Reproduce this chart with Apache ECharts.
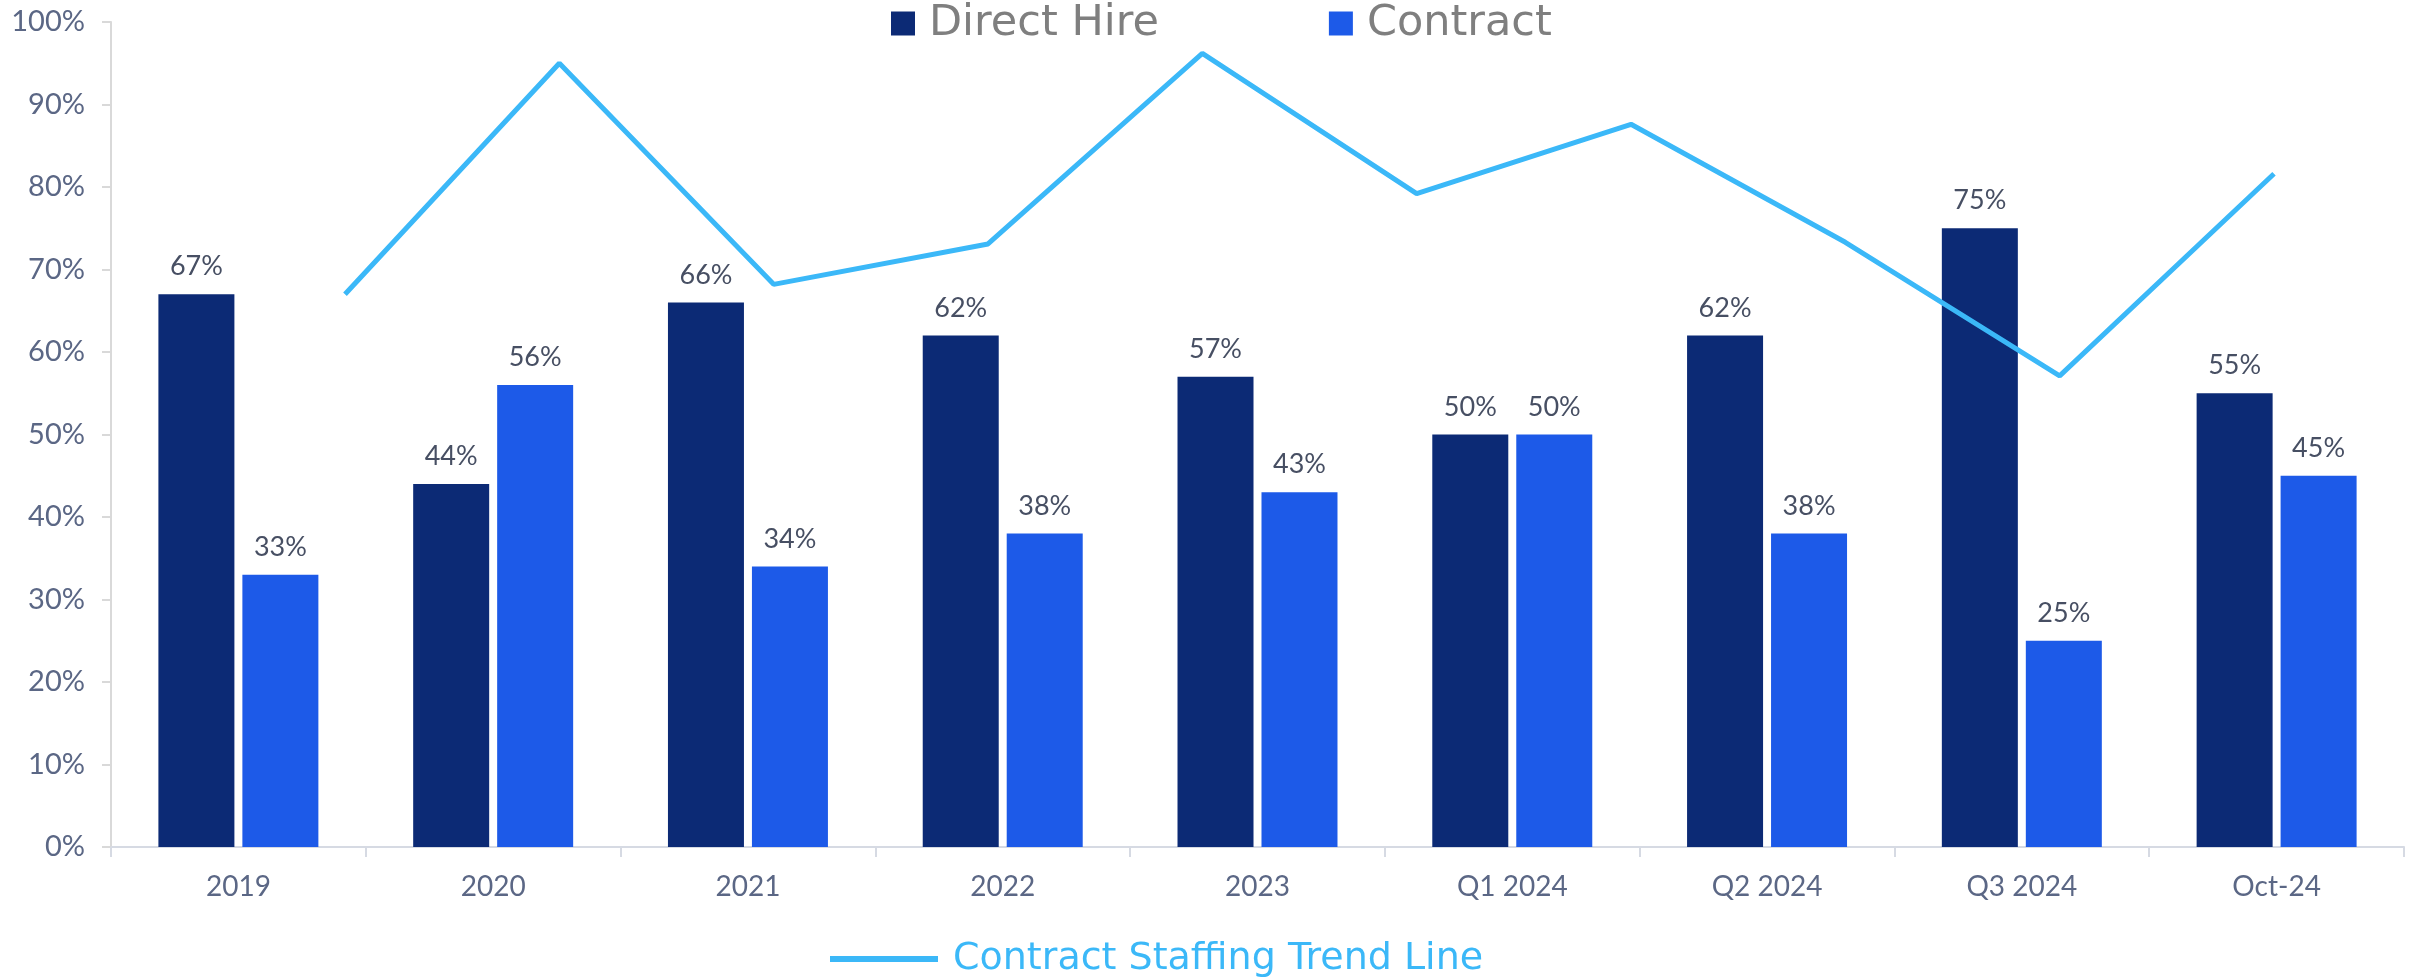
<!DOCTYPE html>
<html>
<head>
<meta charset="utf-8">
<script src="https://cdn.jsdelivr.net/npm/echarts@6/dist/echarts.min.js"></script>
<style>
html,body{margin:0;padding:0;background:#ffffff;}
#chart{width:2420px;height:978px;}
</style>
</head>
<body>
<div id="chart"></div>
<script>
const categories = ['2019','2020','2021','2022','2023','Q1 2024','Q2 2024','Q3 2024','Oct-24'];
const directHire = [67,44,66,62,57,50,62,75,55];
const contract = [33,56,34,38,43,50,38,25,45];
const trendLabels = ['T1','T2','T3','T4','T5','T6','T7','T8','T9','T10'];
const trendValues = [67,95,68.2,73.1,96.2,79.2,87.6,73.3,57.1,81.6];
const yTicks = [0,10,20,30,40,50,60,70,80,90,100];

const FONT = 'Lato';
const LEGEND_FONT = 'DejaVu Sans';
const chart = echarts.init(document.getElementById('chart'), null, {renderer:'canvas'});
const labelStyle = {
  show:true, position:'top', distance:14,
  formatter: p => p.value + '%',
  color:'#474F63', fontFamily:FONT, fontSize:27
};
chart.setOption({
  animation:false,
  textStyle:{fontFamily:FONT},
  legend:[
    {
      data:['Direct Hire','Contract'],
      top:2, left:891, padding:0,
      icon:'rect', itemWidth:24, itemHeight:24, itemGap:170,
      textStyle:{color:'#7F7F7F', fontSize:43, fontFamily:LEGEND_FONT, padding:[0,0,0,9]}
    },
    {
      data:['Contract Staffing Trend Line'],
      bottom:0, left:830, padding:0,
      icon:'rect', itemWidth:108, itemHeight:6,
      textStyle:{color:'#3BB8F8', fontSize:38, fontFamily:LEGEND_FONT, padding:[0,0,0,10]}
    }
  ],
  grid:[
    {left:111, right:16, top:22, bottom:131},
    {left:345, right:146, top:22, bottom:131}
  ],
  xAxis:[
    {
      type:'category', data:categories, gridIndex:0,
      axisLine:{lineStyle:{color:'#D6DAE3', width:2}},
      axisTick:{show:true, length:10, lineStyle:{color:'#D6DAE3', width:2}},
      axisLabel:{color:'#5B6785', fontSize:28, fontFamily:FONT, margin:26}
    },
    {
      type:'category', data:trendLabels, gridIndex:1, boundaryGap:false, show:false
    }
  ],
  yAxis:[
    {
      type:'value', min:0, max:100, interval:10, gridIndex:0,
      axisLine:{show:true, lineStyle:{color:'#D9D9D9', width:2}},
      axisTick:{show:true, length:9, lineStyle:{color:'#D9D9D9', width:2}},
      splitLine:{show:false},
      axisLabel:{color:'#5B6785', fontSize:29, fontFamily:FONT, margin:26,
        formatter: v => yTicks.indexOf(v) >= 0 ? v + '%' : ''}
    },
    {
      type:'value', min:0, max:100, gridIndex:1, show:false
    }
  ],
  series:[
    {
      name:'Direct Hire', type:'bar', data:directHire,
      xAxisIndex:0, yAxisIndex:0,
      barWidth:76, barGap:'10.5%',
      itemStyle:{color:'#0C2A75'},
      label:labelStyle
    },
    {
      name:'Contract', type:'bar', data:contract,
      xAxisIndex:0, yAxisIndex:0,
      barWidth:76, barGap:'10.5%',
      itemStyle:{color:'#1D5AE8'},
      label:labelStyle
    },
    {
      name:'Contract Staffing Trend Line', type:'line', data:trendValues,
      xAxisIndex:1, yAxisIndex:1,
      showSymbol:false, symbol:'none',
      lineStyle:{color:'#3BB8F8', width:5},
      itemStyle:{color:'#3BB8F8'},
      z:5
    }
  ]
});
</script>
</body>
</html>
